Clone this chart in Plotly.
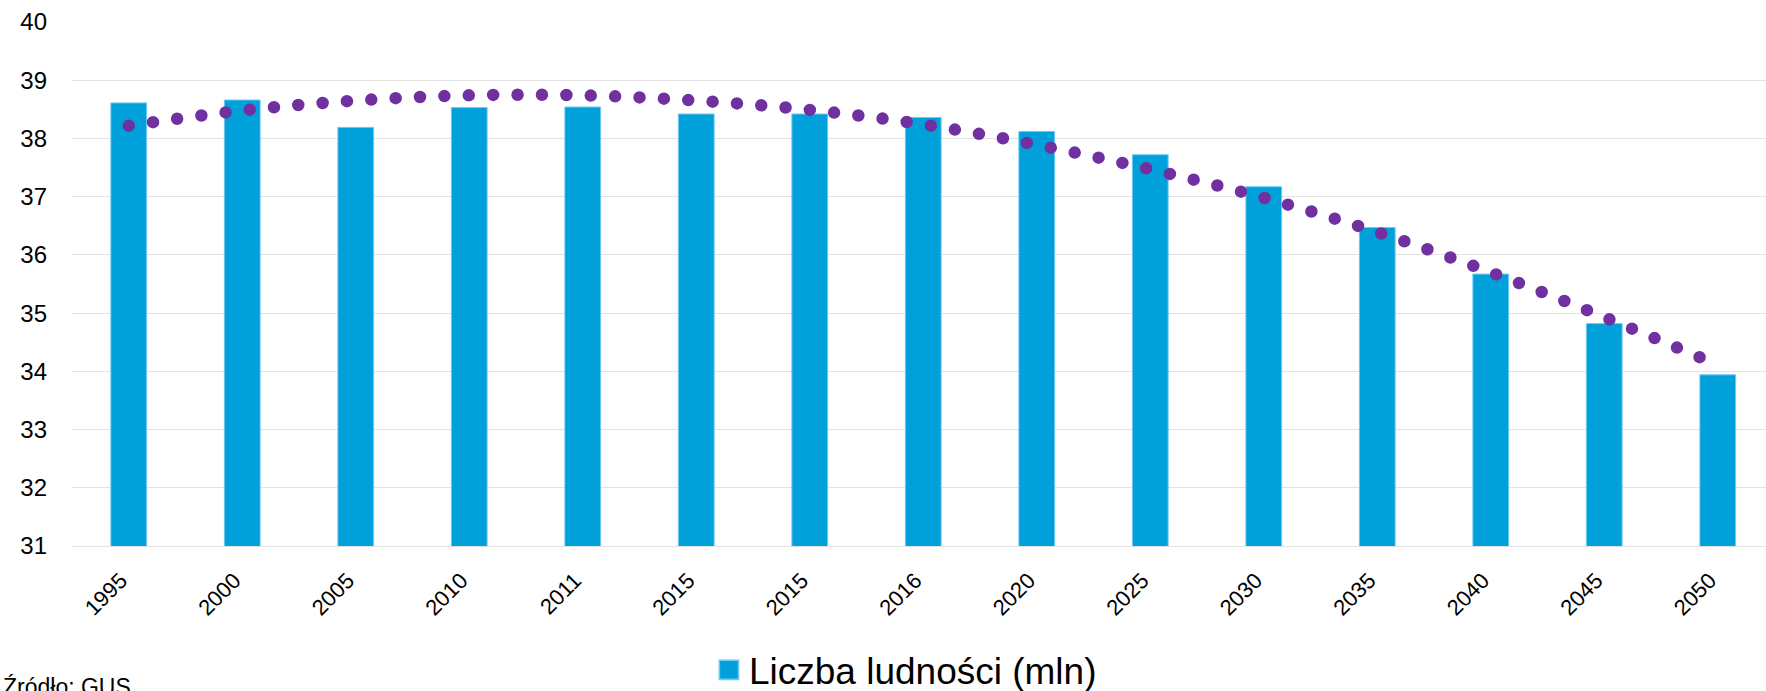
import plotly.graph_objects as go

# kategorie (rok 2015 występuje dwa razy, stąd pozycje liczbowe)
years = ["1995", "2000", "2005", "2010", "2011", "2015", "2015", "2016",
         "2020", "2025", "2030", "2035", "2040", "2045", "2050"]
population = [38.61, 38.66, 38.19, 38.53, 38.54, 38.42, 38.42, 38.36,
              38.12, 37.72, 37.17, 36.47, 35.67, 34.82, 33.94]
# linia trendu
trend = [38.22, 38.48, 38.65, 38.74, 38.74, 38.65, 38.49, 38.24,
         37.89, 37.47, 36.98, 36.39, 35.70, 34.93, 34.11]
y_ticks = [31, 32, 33, 34, 35, 36, 37, 38, 39, 40]

positions = list(range(len(years)))

color = dict(
  bar    = 'rgb(0, 160, 218)',
  edge   = 'rgb(110, 200, 240)',
  trend  = 'rgb(112, 48, 160)',
  grid   = 'rgb(226, 226, 226)',
)

bars = go.Bar(
  x = positions,
  y = population,
  base = 0,
  width = 0.315,
  name = "Liczba ludności (mln)",
  marker = dict(color = color['bar'], line = dict(color = color['edge'], width = 1)),
)

trendline = go.Scatter(
  x = positions,
  y = trend,
  mode = "lines",
  line = dict(color = color['trend'], width = 12.5, dash = "0px,24.4px", shape = "spline"),
  showlegend = False,
  hoverinfo = "skip",
)

layout = go.Layout(
  width = 1766,
  height = 691,
  margin = dict(l = 72, r = 0, t = 22, b = 145),
  plot_bgcolor = "white",
  paper_bgcolor = "white",
  font = dict(family = "Liberation Sans, Arial, sans-serif", color = "black"),
  xaxis = dict(
    tickvals = [p - 0.07 for p in positions],
    ticktext = years,
    tickangle = -45,
    range = [-0.5, 14.425],
    showgrid = False,
    zeroline = False,
    showline = True,
    linecolor = color['grid'],
    tickfont = dict(size = 22),
    ticks = "",
    ticklabelstandoff = 12,
  ),
  yaxis = dict(
    range = [31, 40],
    tickvals = y_ticks,
    showgrid = True,
    gridcolor = color['grid'],
    gridwidth = 1.3,
    zeroline = False,
    tickfont = dict(size = 24),
    ticks = "",
    ticklabelstandoff = 24,
  ),
  showlegend = True,
  legend = dict(
    orientation = "h",
    x = 0.376, xanchor = "left",
    yref = "container", y = 0.03, yanchor = "middle",
    font = dict(size = 37),
  ),
  annotations = [dict(
    text = "Źródło: GUS",
    xref = "paper", yref = "paper",
    x = -0.0422, y = -0.24,
    xanchor = "left", yanchor = "top",
    showarrow = False,
    font = dict(size = 23),
  )],
)

fig = go.Figure(data = [bars, trendline], layout = layout)

# kropki linii trendu: zaokrąglone końcówki kresek, większy kwadrat legendy
css = ("body{margin:0}"
       ".scatterlayer .js-line{stroke-linecap:round}"
       ".legend .legendpoints path{transform:translate(20px,0px) scale(1.6) !important}")
post = "var s=document.createElement('style');s.textContent='" + css + "';document.head.appendChild(s);"

fig.write_html("out.html", post_script = post, config = {"displayModeBar": False})
